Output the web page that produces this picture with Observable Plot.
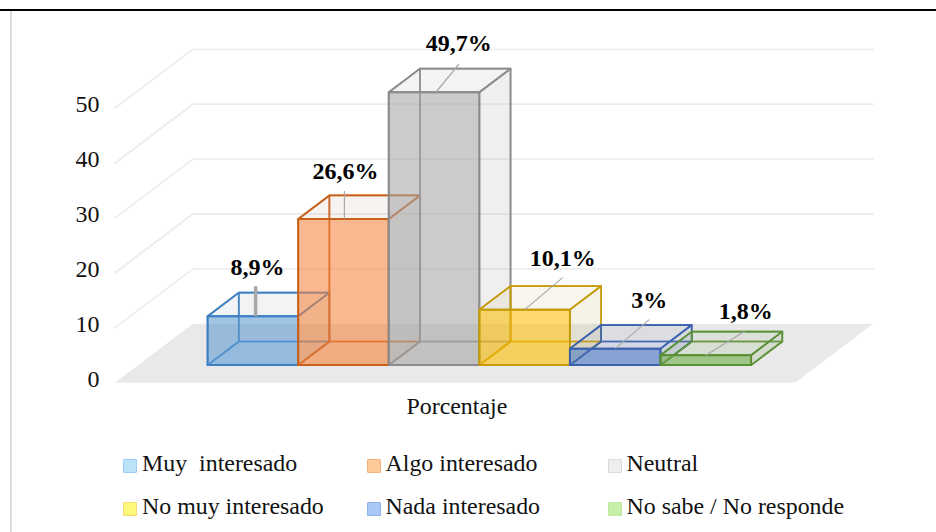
<!DOCTYPE html>
<html lang="es">
<head>
<meta charset="utf-8">
<script src="https://cdn.jsdelivr.net/npm/d3@7"></script>
<script src="https://cdn.jsdelivr.net/npm/@observablehq/plot@0.6"></script>
<style>
  html, body { margin: 0; padding: 0; background: #fff; }
  #page { position: relative; width: 936px; height: 532px; overflow: hidden; font-family: "Liberation Serif", serif; color: #111; }
  #topline { position: absolute; left: 0; right: 0; top: 9px; height: 2px; background: #000; }
  #leftline { position: absolute; left: 10px; top: 11px; bottom: 0; width: 1.5px; background: #dcdcdc; }
  #chart { position: absolute; left: 0; top: 0; }
  #chart svg { display: block; }
  #legend { position: absolute; left: 123px; top: 444px; display: grid; grid-template-columns: 243.5px 241px 260px; grid-auto-rows: 43px; font-size: 23.9px; }
  .item { display: flex; align-items: center; white-space: pre; height: 38px; }
  .swatch { width: 12px; height: 12px; border-width: 1.5px; border-style: solid; margin-right: 5px; margin-top: 6px; flex: none; border-radius: 1px; }
</style>
</head>
<body>
<div id="page">
  <div id="chart"></div>
  <div id="topline"></div>
  <div id="leftline"></div>
  <div id="legend"></div>
</div>
<script>
// --- data ---
const categories = ["Muy  interesado", "Algo interesado", "Neutral", "No muy interesado", "Nada interesado", "No sabe / No responde"];
const values = [8.9, 26.6, 49.7, 10.1, 3, 1.8];
const valueLabels = ["8,9%", "26,6%", "49,7%", "10,1%", "3%", "1,8%"];
const yTicks = [0, 10, 20, 30, 40, 50];
const axisLabel = "Porcentaje";

// --- styles ---
const faceFill = ["#5B9BD5", "#F8843A", "#A5A5A5", "#FFC000", "#4472C4", "#70AD47"];
const edge = ["#3D7FC1", "#C9601C", "#8B8B8B", "#C59B08", "#3B62AE", "#5A9137"];
const tint = ["#8a9bb0", "#b89a80", "#999999", "#c0b060", "#7f8faf", "#8aa070"];
const swatchFill = ["#BDE3FB", "#FCCB98", "#EEEEEE", "#FCF97A", "#A9C8F5", "#C6EFA9"];
const swatchEdge = ["#9CCBF5", "#F8B07C", "#D9D9D9", "#FBDB75", "#8FB2EC", "#BEE8A0"];
const leaderWidth = [3.5, 1.2, 1.2, 1.2, 1.2, 1.2];
// where the leader leaves the bar's front-top edge (fraction of the bar width)
const leaderStart = [0.53, 0.51, 0.52, 0.5, 0.5, 0.5];
// leader end relative to its start, and label centre relative to leader end (px)
const leaderOffset = [[0, -30], [0, -28], [23, -28], [38, -32], [34, -29], [39, -24]];
const labelOffset = [[2, -19], [1, -20], [0, -21], [0, -19], [0, -19], [1, -20]];

// --- oblique projection set-up, in scale units ---
const xRange = [183.7, 727.2];
const yRange = [382.3, 107.8];
const pxPerU = (xRange[1] - xRange[0]) / 6;
const pxPerV = (yRange[0] - yRange[1]) / 50;
const depthX = 78 / pxPerU;
const depthY = 59 / pxPerV;
const floorU = [-0.766, 6.744];
const barDepth = [0.30, 0.70];
const P = (u, v, d) => ({ x: u + d * depthX, y: v + d * depthY });
const poly = (...pts) => [...pts, pts[0]];

const marks = [];
// floor
marks.push(Plot.line(poly(P(floorU[0], 0, 0), P(floorU[1], 0, 0), P(floorU[1], 0, 1), P(floorU[0], 0, 1)),
  { x: "x", y: "y", fill: "#E9E9E9", stroke: "none" }));
// gridlines
for (const t of yTicks.slice(1)) {
  marks.push(Plot.line([P(floorU[0], t, 0), P(floorU[0], t, 1), P(floorU[1], t, 1)],
    { x: "x", y: "y", stroke: "#EDEDED", strokeWidth: 1.8 }));
}
// bars
values.forEach((v, i) => {
  const [d0, d1] = barDepth;
  const u0 = i, u1 = i + 1;
  const face = (pts, fill, fillOpacity, strokeOpacity, strokeWidth) =>
    marks.push(Plot.line(poly(...pts), { x: "x", y: "y", fill, fillOpacity, stroke: edge[i], strokeOpacity, strokeWidth }));
  face([P(u0, 0, d1), P(u1, 0, d1), P(u1, v, d1), P(u0, v, d1)], tint[i], 0.07, 0.8, 1.7);      // back
  face([P(u0, 0, d0), P(u0, 0, d1), P(u0, v, d1), P(u0, v, d0)], tint[i], 0.07, 0.8, 1.7);      // left
  face([P(u0, 0, d0), P(u1, 0, d0), P(u1, 0, d1), P(u0, 0, d1)], faceFill[i], 0.1, 0.8, 1.7);   // bottom
  face([P(u1, 0, d0), P(u1, 0, d1), P(u1, v, d1), P(u1, v, d0)], tint[i], 0.09, 0.9, 1.7);      // right
  face([P(u0, v, d0), P(u1, v, d0), P(u1, v, d1), P(u0, v, d1)], tint[i], 0.05, 1, 1.8);        // top
  face([P(u0, 0, d0), P(u1, 0, d0), P(u1, v, d0), P(u0, v, d0)], faceFill[i], 0.55, 1, 2);      // front
});
// leaders and value labels
values.forEach((v, i) => {
  const s = P(i + leaderStart[i], v, barDepth[0]);
  const [lx, ly] = leaderOffset[i];
  const e = { x: s.x + lx / pxPerU, y: s.y - ly / pxPerV };
  marks.push(Plot.link([{ ...s }], {
    x1: "x", y1: "y", x2: () => e.x, y2: () => e.y, stroke: "#A8A8A8", strokeWidth: leaderWidth[i]
  }));
  marks.push(Plot.text([valueLabels[i]], {
    x: () => e.x, y: () => e.y, text: d => d, dx: labelOffset[i][0], dy: labelOffset[i][1],
    fontWeight: "bold", fontSize: 24, fill: "#000"
  }));
});
// axes
marks.push(Plot.axisY({ anchor: "left", ticks: yTicks, tickSize: 0, tickPadding: 0, dx: -1, dy: -3.5, fontSize: 24, fill: "#111", label: null }));
marks.push(Plot.axisX({ anchor: "bottom", ticks: [3.01], tickFormat: () => axisLabel, tickSize: 0, tickPadding: 2, fontSize: 23.9, fill: "#111", label: null }));

const chart = Plot.plot({
  width: 936,
  height: 440,
  marginLeft: 100,
  marginRight: 0,
  marginTop: 0,
  marginBottom: 45,
  x: { type: "linear", domain: [0, 6], range: xRange },
  y: { type: "linear", domain: [0, 50], range: yRange },
  style: { fontFamily: "'Liberation Serif', serif", background: "transparent", overflow: "visible" },
  marks
});
document.getElementById("chart").appendChild(chart);

// legend
const legend = d3.select("#legend");
categories.forEach((c, i) => {
  const item = legend.append("div").attr("class", "item");
  item.append("span").attr("class", "swatch")
    .style("background", swatchFill[i]).style("border-color", swatchEdge[i]);
  item.append("span").text(c);
});
</script>
</body>
</html>
